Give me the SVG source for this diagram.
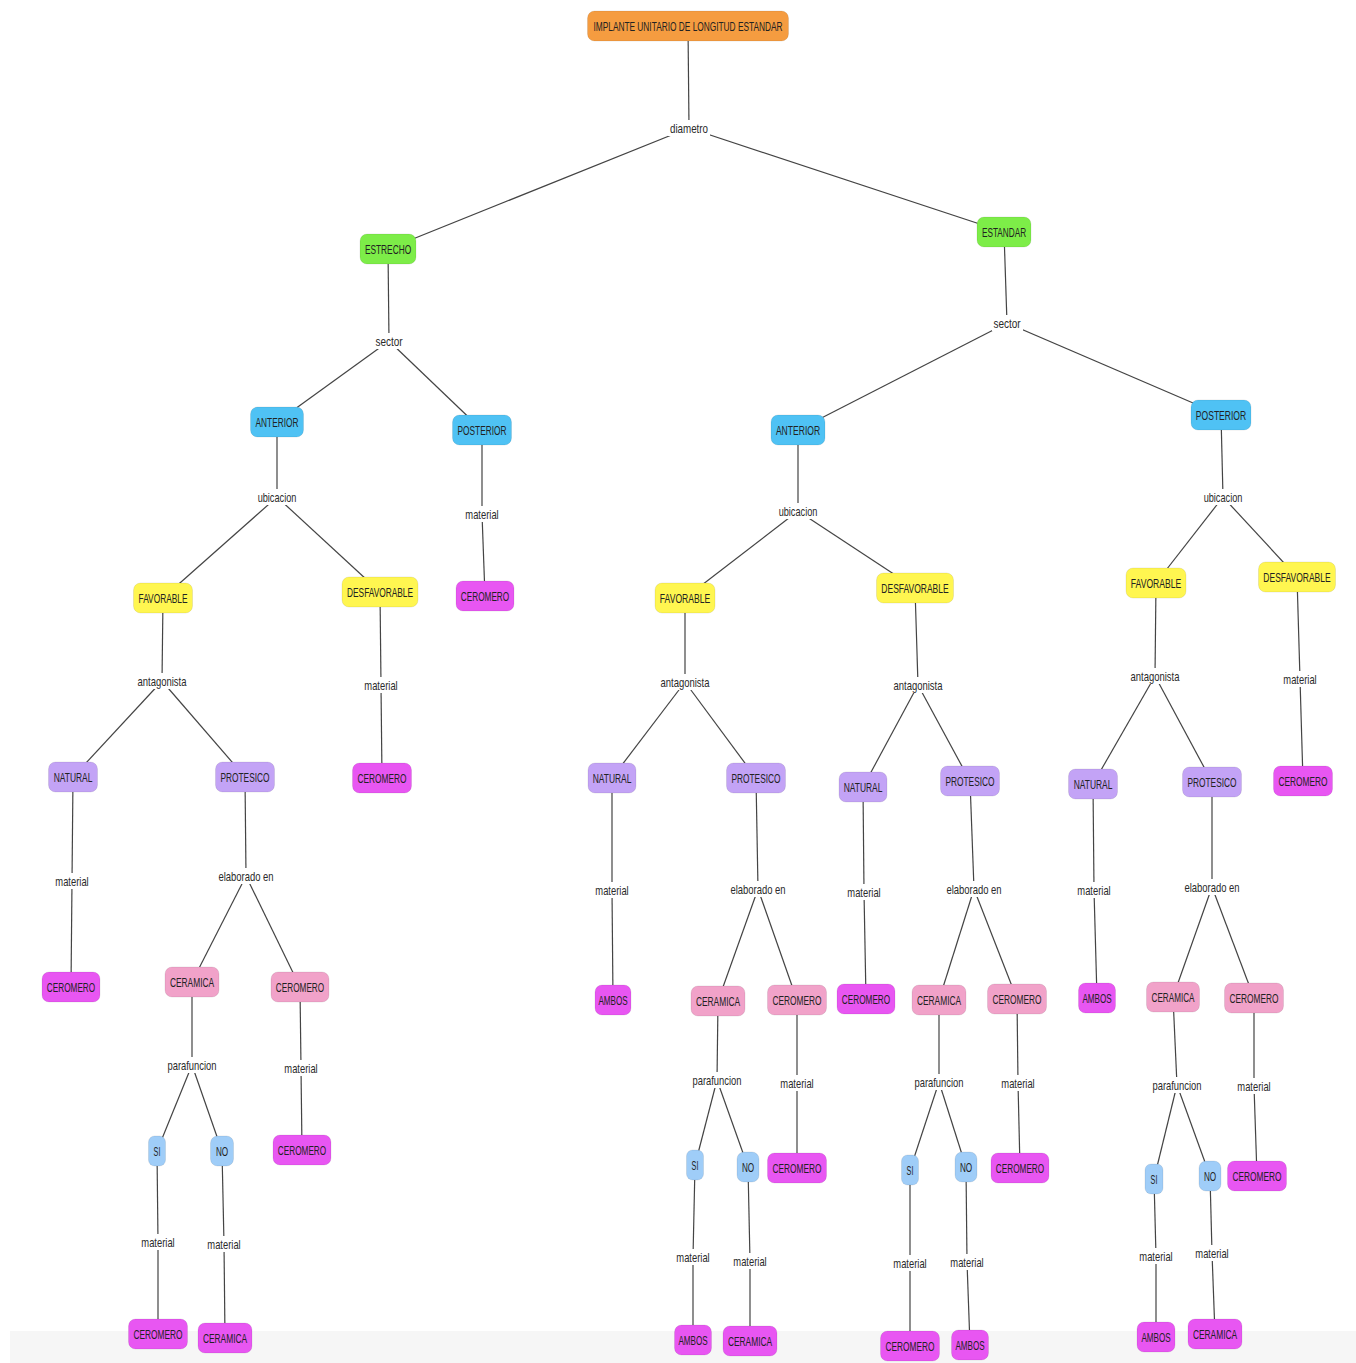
<svg xmlns="http://www.w3.org/2000/svg" width="1356" height="1363" viewBox="0 0 1356 1363">
<style>
.c{stroke:#444;stroke-width:1.2;fill:none}
.lb{fill:#fff}
.lt{font-family:"Liberation Sans",Arial,sans-serif;font-size:13.5px;fill:#2a2a2a;text-anchor:middle}
.nt{font-family:"Liberation Sans",Arial,sans-serif;font-size:13.5px;fill:#222;text-anchor:middle}
rect.n{stroke:rgba(0,0,0,0.08);stroke-width:1}
.or{fill:#f59c40}.gr{fill:#7ded48}.bl{fill:#4fc2f4}.ye{fill:#fff650}.la{fill:#c3a3f6}.pk{fill:#f1a2c9}.mg{fill:#e856f2}.lb2{fill:#9fcdf8}
</style>
<rect x="10" y="1331" width="1346" height="32" fill="#f6f6f6"/>
<g id="connectors">
<line class="c" x1="688" y1="26" x2="689" y2="128"/>
<line class="c" x1="689" y1="128" x2="388" y2="249"/>
<line class="c" x1="689" y1="128" x2="1004" y2="232"/>
<line class="c" x1="388" y1="249" x2="389" y2="341"/>
<line class="c" x1="389" y1="341" x2="277" y2="422"/>
<line class="c" x1="389" y1="341" x2="482" y2="430"/>
<line class="c" x1="1004" y1="232" x2="1007" y2="323"/>
<line class="c" x1="1007" y1="323" x2="798" y2="430"/>
<line class="c" x1="1007" y1="323" x2="1221" y2="415"/>
<line class="c" x1="277" y1="422" x2="277" y2="497"/>
<line class="c" x1="277" y1="497" x2="163" y2="598"/>
<line class="c" x1="277" y1="497" x2="380" y2="592"/>
<line class="c" x1="482" y1="430" x2="482" y2="514"/>
<line class="c" x1="482" y1="514" x2="485" y2="596"/>
<line class="c" x1="163" y1="598" x2="162" y2="681"/>
<line class="c" x1="162" y1="681" x2="73" y2="777"/>
<line class="c" x1="162" y1="681" x2="245" y2="777"/>
<line class="c" x1="380" y1="592" x2="381" y2="685"/>
<line class="c" x1="381" y1="685" x2="382" y2="778"/>
<line class="c" x1="73" y1="777" x2="72" y2="881"/>
<line class="c" x1="72" y1="881" x2="71" y2="987"/>
<line class="c" x1="245" y1="777" x2="246" y2="876"/>
<line class="c" x1="246" y1="876" x2="192" y2="982"/>
<line class="c" x1="246" y1="876" x2="300" y2="987"/>
<line class="c" x1="192" y1="982" x2="192" y2="1065"/>
<line class="c" x1="192" y1="1065" x2="157" y2="1151"/>
<line class="c" x1="192" y1="1065" x2="222" y2="1151"/>
<line class="c" x1="300" y1="987" x2="301" y2="1068"/>
<line class="c" x1="301" y1="1068" x2="302" y2="1150"/>
<line class="c" x1="157" y1="1151" x2="158" y2="1242"/>
<line class="c" x1="158" y1="1242" x2="158" y2="1334"/>
<line class="c" x1="222" y1="1151" x2="224" y2="1244"/>
<line class="c" x1="224" y1="1244" x2="225" y2="1338"/>
<line class="c" x1="798" y1="430" x2="798" y2="511"/>
<line class="c" x1="798" y1="511" x2="685" y2="598"/>
<line class="c" x1="798" y1="511" x2="915" y2="588"/>
<line class="c" x1="1221" y1="415" x2="1223" y2="497"/>
<line class="c" x1="1223" y1="497" x2="1156" y2="583"/>
<line class="c" x1="1223" y1="497" x2="1297" y2="577"/>
<line class="c" x1="685" y1="598" x2="685" y2="682"/>
<line class="c" x1="685" y1="682" x2="612" y2="778"/>
<line class="c" x1="685" y1="682" x2="756" y2="778"/>
<line class="c" x1="915" y1="588" x2="918" y2="685"/>
<line class="c" x1="918" y1="685" x2="863" y2="787"/>
<line class="c" x1="918" y1="685" x2="970" y2="781"/>
<line class="c" x1="612" y1="778" x2="612" y2="890"/>
<line class="c" x1="612" y1="890" x2="613" y2="1000"/>
<line class="c" x1="756" y1="778" x2="758" y2="889"/>
<line class="c" x1="758" y1="889" x2="718" y2="1001"/>
<line class="c" x1="758" y1="889" x2="797" y2="1000"/>
<line class="c" x1="863" y1="787" x2="864" y2="892"/>
<line class="c" x1="864" y1="892" x2="866" y2="999"/>
<line class="c" x1="970" y1="781" x2="974" y2="889"/>
<line class="c" x1="974" y1="889" x2="939" y2="1000"/>
<line class="c" x1="974" y1="889" x2="1017" y2="999"/>
<line class="c" x1="718" y1="1001" x2="717" y2="1080"/>
<line class="c" x1="717" y1="1080" x2="695" y2="1165"/>
<line class="c" x1="717" y1="1080" x2="748" y2="1167"/>
<line class="c" x1="797" y1="1000" x2="797" y2="1083"/>
<line class="c" x1="797" y1="1083" x2="797" y2="1168"/>
<line class="c" x1="939" y1="1000" x2="939" y2="1082"/>
<line class="c" x1="939" y1="1082" x2="910" y2="1170"/>
<line class="c" x1="939" y1="1082" x2="966" y2="1167"/>
<line class="c" x1="1017" y1="999" x2="1018" y2="1083"/>
<line class="c" x1="1018" y1="1083" x2="1020" y2="1168"/>
<line class="c" x1="695" y1="1165" x2="693" y2="1257"/>
<line class="c" x1="693" y1="1257" x2="693" y2="1340"/>
<line class="c" x1="748" y1="1167" x2="750" y2="1261"/>
<line class="c" x1="750" y1="1261" x2="750" y2="1341"/>
<line class="c" x1="910" y1="1170" x2="910" y2="1263"/>
<line class="c" x1="910" y1="1263" x2="910" y2="1346"/>
<line class="c" x1="966" y1="1167" x2="967" y2="1262"/>
<line class="c" x1="967" y1="1262" x2="970" y2="1345"/>
<line class="c" x1="1156" y1="583" x2="1155" y2="676"/>
<line class="c" x1="1155" y1="676" x2="1093" y2="784"/>
<line class="c" x1="1155" y1="676" x2="1212" y2="782"/>
<line class="c" x1="1297" y1="577" x2="1300" y2="679"/>
<line class="c" x1="1300" y1="679" x2="1303" y2="781"/>
<line class="c" x1="1093" y1="784" x2="1094" y2="890"/>
<line class="c" x1="1094" y1="890" x2="1097" y2="998"/>
<line class="c" x1="1212" y1="782" x2="1212" y2="887"/>
<line class="c" x1="1212" y1="887" x2="1173" y2="997"/>
<line class="c" x1="1212" y1="887" x2="1254" y2="998"/>
<line class="c" x1="1173" y1="997" x2="1177" y2="1085"/>
<line class="c" x1="1177" y1="1085" x2="1154" y2="1179"/>
<line class="c" x1="1177" y1="1085" x2="1210" y2="1176"/>
<line class="c" x1="1254" y1="998" x2="1254" y2="1086"/>
<line class="c" x1="1254" y1="1086" x2="1257" y2="1176"/>
<line class="c" x1="1154" y1="1179" x2="1156" y2="1256"/>
<line class="c" x1="1156" y1="1256" x2="1156" y2="1337"/>
<line class="c" x1="1210" y1="1176" x2="1212" y2="1253"/>
<line class="c" x1="1212" y1="1253" x2="1215" y2="1334"/>
<g id="labels">
<rect class="lb" x="668" y="120" width="42" height="16"/><text class="lt" transform="translate(689 133) scale(.68 1)" textLength="56" lengthAdjust="spacingAndGlyphs">diametro</text>
<rect class="lb" x="374" y="333" width="31" height="16"/><text class="lt" transform="translate(389 346) scale(.68 1)" textLength="40" lengthAdjust="spacingAndGlyphs">sector</text>
<rect class="lb" x="992" y="315" width="31" height="16"/><text class="lt" transform="translate(1007 328) scale(.68 1)" textLength="40" lengthAdjust="spacingAndGlyphs">sector</text>
<rect class="lb" x="256" y="489" width="43" height="16"/><text class="lt" transform="translate(277 502) scale(.68 1)" textLength="57" lengthAdjust="spacingAndGlyphs">ubicacion</text>
<rect class="lb" x="777" y="503" width="43" height="16"/><text class="lt" transform="translate(798 516) scale(.68 1)" textLength="57" lengthAdjust="spacingAndGlyphs">ubicacion</text>
<rect class="lb" x="1202" y="489" width="43" height="16"/><text class="lt" transform="translate(1223 502) scale(.68 1)" textLength="57" lengthAdjust="spacingAndGlyphs">ubicacion</text>
<rect class="lb" x="135" y="673" width="53" height="16"/><text class="lt" transform="translate(162 686) scale(.68 1)" textLength="72" lengthAdjust="spacingAndGlyphs">antagonista</text>
<rect class="lb" x="658" y="674" width="53" height="16"/><text class="lt" transform="translate(685 687) scale(.68 1)" textLength="72" lengthAdjust="spacingAndGlyphs">antagonista</text>
<rect class="lb" x="891" y="677" width="53" height="16"/><text class="lt" transform="translate(918 690) scale(.68 1)" textLength="72" lengthAdjust="spacingAndGlyphs">antagonista</text>
<rect class="lb" x="1128" y="668" width="53" height="16"/><text class="lt" transform="translate(1155 681) scale(.68 1)" textLength="72" lengthAdjust="spacingAndGlyphs">antagonista</text>
<rect class="lb" x="218" y="868" width="59" height="16"/><text class="lt" transform="translate(246 881) scale(.68 1)" textLength="81" lengthAdjust="spacingAndGlyphs">elaborado en</text>
<rect class="lb" x="730" y="881" width="59" height="16"/><text class="lt" transform="translate(758 894) scale(.68 1)" textLength="81" lengthAdjust="spacingAndGlyphs">elaborado en</text>
<rect class="lb" x="946" y="881" width="59" height="16"/><text class="lt" transform="translate(974 894) scale(.68 1)" textLength="81" lengthAdjust="spacingAndGlyphs">elaborado en</text>
<rect class="lb" x="1184" y="879" width="59" height="16"/><text class="lt" transform="translate(1212 892) scale(.68 1)" textLength="81" lengthAdjust="spacingAndGlyphs">elaborado en</text>
<rect class="lb" x="166" y="1057" width="53" height="16"/><text class="lt" transform="translate(192 1070) scale(.68 1)" textLength="72" lengthAdjust="spacingAndGlyphs">parafuncion</text>
<rect class="lb" x="691" y="1072" width="53" height="16"/><text class="lt" transform="translate(717 1085) scale(.68 1)" textLength="72" lengthAdjust="spacingAndGlyphs">parafuncion</text>
<rect class="lb" x="913" y="1074" width="53" height="16"/><text class="lt" transform="translate(939 1087) scale(.68 1)" textLength="72" lengthAdjust="spacingAndGlyphs">parafuncion</text>
<rect class="lb" x="1151" y="1077" width="53" height="16"/><text class="lt" transform="translate(1177 1090) scale(.68 1)" textLength="72" lengthAdjust="spacingAndGlyphs">parafuncion</text>
<rect class="lb" x="463" y="506" width="37" height="16"/><text class="lt" transform="translate(482 519) scale(.68 1)" textLength="49" lengthAdjust="spacingAndGlyphs">material</text>
<rect class="lb" x="362" y="677" width="37" height="16"/><text class="lt" transform="translate(381 690) scale(.68 1)" textLength="49" lengthAdjust="spacingAndGlyphs">material</text>
<rect class="lb" x="53" y="873" width="37" height="16"/><text class="lt" transform="translate(72 886) scale(.68 1)" textLength="49" lengthAdjust="spacingAndGlyphs">material</text>
<rect class="lb" x="282" y="1060" width="37" height="16"/><text class="lt" transform="translate(301 1073) scale(.68 1)" textLength="49" lengthAdjust="spacingAndGlyphs">material</text>
<rect class="lb" x="139" y="1234" width="37" height="16"/><text class="lt" transform="translate(158 1247) scale(.68 1)" textLength="49" lengthAdjust="spacingAndGlyphs">material</text>
<rect class="lb" x="205" y="1236" width="37" height="16"/><text class="lt" transform="translate(224 1249) scale(.68 1)" textLength="49" lengthAdjust="spacingAndGlyphs">material</text>
<rect class="lb" x="593" y="882" width="37" height="16"/><text class="lt" transform="translate(612 895) scale(.68 1)" textLength="49" lengthAdjust="spacingAndGlyphs">material</text>
<rect class="lb" x="845" y="884" width="37" height="16"/><text class="lt" transform="translate(864 897) scale(.68 1)" textLength="49" lengthAdjust="spacingAndGlyphs">material</text>
<rect class="lb" x="778" y="1075" width="37" height="16"/><text class="lt" transform="translate(797 1088) scale(.68 1)" textLength="49" lengthAdjust="spacingAndGlyphs">material</text>
<rect class="lb" x="999" y="1075" width="37" height="16"/><text class="lt" transform="translate(1018 1088) scale(.68 1)" textLength="49" lengthAdjust="spacingAndGlyphs">material</text>
<rect class="lb" x="674" y="1249" width="37" height="16"/><text class="lt" transform="translate(693 1262) scale(.68 1)" textLength="49" lengthAdjust="spacingAndGlyphs">material</text>
<rect class="lb" x="731" y="1253" width="37" height="16"/><text class="lt" transform="translate(750 1266) scale(.68 1)" textLength="49" lengthAdjust="spacingAndGlyphs">material</text>
<rect class="lb" x="891" y="1255" width="37" height="16"/><text class="lt" transform="translate(910 1268) scale(.68 1)" textLength="49" lengthAdjust="spacingAndGlyphs">material</text>
<rect class="lb" x="948" y="1254" width="37" height="16"/><text class="lt" transform="translate(967 1267) scale(.68 1)" textLength="49" lengthAdjust="spacingAndGlyphs">material</text>
<rect class="lb" x="1281" y="671" width="37" height="16"/><text class="lt" transform="translate(1300 684) scale(.68 1)" textLength="49" lengthAdjust="spacingAndGlyphs">material</text>
<rect class="lb" x="1075" y="882" width="37" height="16"/><text class="lt" transform="translate(1094 895) scale(.68 1)" textLength="49" lengthAdjust="spacingAndGlyphs">material</text>
<rect class="lb" x="1235" y="1078" width="37" height="16"/><text class="lt" transform="translate(1254 1091) scale(.68 1)" textLength="49" lengthAdjust="spacingAndGlyphs">material</text>
<rect class="lb" x="1137" y="1248" width="37" height="16"/><text class="lt" transform="translate(1156 1261) scale(.68 1)" textLength="49" lengthAdjust="spacingAndGlyphs">material</text>
<rect class="lb" x="1193" y="1245" width="37" height="16"/><text class="lt" transform="translate(1212 1258) scale(.68 1)" textLength="49" lengthAdjust="spacingAndGlyphs">material</text>
</g>
</g>
<g id="n0"><rect class="n or" x="587.5" y="11" width="201" height="30" rx="7"/><text class="nt" transform="translate(688 31) scale(.68 1)" textLength="278" lengthAdjust="spacingAndGlyphs">IMPLANTE UNITARIO DE LONGITUD ESTANDAR</text></g>
<g id="n1"><rect class="n gr" x="360" y="234" width="56" height="30" rx="7"/><text class="nt" transform="translate(388 254) scale(.68 1)" textLength="68" lengthAdjust="spacingAndGlyphs">ESTRECHO</text></g>
<g id="n2"><rect class="n gr" x="977" y="217" width="54" height="30" rx="7"/><text class="nt" transform="translate(1004 237) scale(.68 1)" textLength="65" lengthAdjust="spacingAndGlyphs">ESTANDAR</text></g>
<g id="n3"><rect class="n bl" x="250.5" y="407" width="53" height="30" rx="7"/><text class="nt" transform="translate(277 427) scale(.68 1)" textLength="63" lengthAdjust="spacingAndGlyphs">ANTERIOR</text></g>
<g id="n4"><rect class="n bl" x="452.5" y="415" width="59" height="30" rx="7"/><text class="nt" transform="translate(482 435) scale(.68 1)" textLength="72" lengthAdjust="spacingAndGlyphs">POSTERIOR</text></g>
<g id="n5"><rect class="n mg" x="456" y="581" width="58" height="30" rx="7"/><text class="nt" transform="translate(485 601) scale(.68 1)" textLength="71" lengthAdjust="spacingAndGlyphs">CEROMERO</text></g>
<g id="n6"><rect class="n ye" x="133.5" y="583" width="59" height="30" rx="7"/><text class="nt" transform="translate(163 603) scale(.68 1)" textLength="72" lengthAdjust="spacingAndGlyphs">FAVORABLE</text></g>
<g id="n7"><rect class="n ye" x="342" y="577" width="76" height="30" rx="7"/><text class="nt" transform="translate(380 597) scale(.68 1)" textLength="97" lengthAdjust="spacingAndGlyphs">DESFAVORABLE</text></g>
<g id="n8"><rect class="n mg" x="352.5" y="763" width="59" height="30" rx="7"/><text class="nt" transform="translate(382 783) scale(.68 1)" textLength="72" lengthAdjust="spacingAndGlyphs">CEROMERO</text></g>
<g id="n9"><rect class="n la" x="48.5" y="762" width="49" height="30" rx="7"/><text class="nt" transform="translate(73 782) scale(.68 1)" textLength="57" lengthAdjust="spacingAndGlyphs">NATURAL</text></g>
<g id="n10"><rect class="n la" x="215.5" y="762" width="59" height="30" rx="7"/><text class="nt" transform="translate(245 782) scale(.68 1)" textLength="72" lengthAdjust="spacingAndGlyphs">PROTESICO</text></g>
<g id="n11"><rect class="n mg" x="42" y="972" width="58" height="30" rx="7"/><text class="nt" transform="translate(71 992) scale(.68 1)" textLength="71" lengthAdjust="spacingAndGlyphs">CEROMERO</text></g>
<g id="n12"><rect class="n pk" x="165" y="967" width="54" height="30" rx="7"/><text class="nt" transform="translate(192 987) scale(.68 1)" textLength="65" lengthAdjust="spacingAndGlyphs">CERAMICA</text></g>
<g id="n13"><rect class="n pk" x="271" y="972" width="58" height="30" rx="7"/><text class="nt" transform="translate(300 992) scale(.68 1)" textLength="71" lengthAdjust="spacingAndGlyphs">CEROMERO</text></g>
<g id="n14"><rect class="n lb2" x="148.5" y="1136" width="17" height="30" rx="6"/><text class="nt" transform="translate(157 1156) scale(.68 1)" textLength="10" lengthAdjust="spacingAndGlyphs">SI</text></g>
<g id="n15"><rect class="n lb2" x="210.5" y="1136" width="23" height="30" rx="7"/><text class="nt" transform="translate(222 1156) scale(.68 1)" textLength="18" lengthAdjust="spacingAndGlyphs">NO</text></g>
<g id="n16"><rect class="n mg" x="273" y="1135" width="58" height="30" rx="7"/><text class="nt" transform="translate(302 1155) scale(.68 1)" textLength="71" lengthAdjust="spacingAndGlyphs">CEROMERO</text></g>
<g id="n17"><rect class="n mg" x="128.5" y="1319" width="59" height="30" rx="7"/><text class="nt" transform="translate(158 1339) scale(.68 1)" textLength="72" lengthAdjust="spacingAndGlyphs">CEROMERO</text></g>
<g id="n18"><rect class="n mg" x="198" y="1323" width="54" height="30" rx="7"/><text class="nt" transform="translate(225 1343) scale(.68 1)" textLength="65" lengthAdjust="spacingAndGlyphs">CERAMICA</text></g>
<g id="n19"><rect class="n bl" x="771" y="415" width="54" height="30" rx="7"/><text class="nt" transform="translate(798 435) scale(.68 1)" textLength="65" lengthAdjust="spacingAndGlyphs">ANTERIOR</text></g>
<g id="n20"><rect class="n bl" x="1191" y="400" width="60" height="30" rx="7"/><text class="nt" transform="translate(1221 420) scale(.68 1)" textLength="74" lengthAdjust="spacingAndGlyphs">POSTERIOR</text></g>
<g id="n21"><rect class="n ye" x="655" y="583" width="60" height="30" rx="7"/><text class="nt" transform="translate(685 603) scale(.68 1)" textLength="74" lengthAdjust="spacingAndGlyphs">FAVORABLE</text></g>
<g id="n22"><rect class="n ye" x="876.5" y="573" width="77" height="30" rx="7"/><text class="nt" transform="translate(915 593) scale(.68 1)" textLength="99" lengthAdjust="spacingAndGlyphs">DESFAVORABLE</text></g>
<g id="n23"><rect class="n la" x="588" y="763" width="48" height="30" rx="7"/><text class="nt" transform="translate(612 783) scale(.68 1)" textLength="57" lengthAdjust="spacingAndGlyphs">NATURAL</text></g>
<g id="n24"><rect class="n la" x="726.5" y="763" width="59" height="30" rx="7"/><text class="nt" transform="translate(756 783) scale(.68 1)" textLength="72" lengthAdjust="spacingAndGlyphs">PROTESICO</text></g>
<g id="n25"><rect class="n la" x="839" y="772" width="48" height="30" rx="7"/><text class="nt" transform="translate(863 792) scale(.68 1)" textLength="57" lengthAdjust="spacingAndGlyphs">NATURAL</text></g>
<g id="n26"><rect class="n la" x="940.5" y="766" width="59" height="30" rx="7"/><text class="nt" transform="translate(970 786) scale(.68 1)" textLength="72" lengthAdjust="spacingAndGlyphs">PROTESICO</text></g>
<g id="n27"><rect class="n mg" x="595" y="985" width="36" height="30" rx="7"/><text class="nt" transform="translate(613 1005) scale(.68 1)" textLength="43" lengthAdjust="spacingAndGlyphs">AMBOS</text></g>
<g id="n28"><rect class="n pk" x="691" y="986" width="54" height="30" rx="7"/><text class="nt" transform="translate(718 1006) scale(.68 1)" textLength="65" lengthAdjust="spacingAndGlyphs">CERAMICA</text></g>
<g id="n29"><rect class="n pk" x="767.5" y="985" width="59" height="30" rx="7"/><text class="nt" transform="translate(797 1005) scale(.68 1)" textLength="72" lengthAdjust="spacingAndGlyphs">CEROMERO</text></g>
<g id="n30"><rect class="n mg" x="837" y="984" width="58" height="30" rx="7"/><text class="nt" transform="translate(866 1004) scale(.68 1)" textLength="71" lengthAdjust="spacingAndGlyphs">CEROMERO</text></g>
<g id="n31"><rect class="n pk" x="912" y="985" width="54" height="30" rx="7"/><text class="nt" transform="translate(939 1005) scale(.68 1)" textLength="65" lengthAdjust="spacingAndGlyphs">CERAMICA</text></g>
<g id="n32"><rect class="n pk" x="987.5" y="984" width="59" height="30" rx="7"/><text class="nt" transform="translate(1017 1004) scale(.68 1)" textLength="72" lengthAdjust="spacingAndGlyphs">CEROMERO</text></g>
<g id="n33"><rect class="n lb2" x="686.5" y="1150" width="17" height="30" rx="6"/><text class="nt" transform="translate(695 1170) scale(.68 1)" textLength="10" lengthAdjust="spacingAndGlyphs">SI</text></g>
<g id="n34"><rect class="n lb2" x="737" y="1152" width="22" height="30" rx="7"/><text class="nt" transform="translate(748 1172) scale(.68 1)" textLength="18" lengthAdjust="spacingAndGlyphs">NO</text></g>
<g id="n35"><rect class="n mg" x="767.5" y="1153" width="59" height="30" rx="7"/><text class="nt" transform="translate(797 1173) scale(.68 1)" textLength="72" lengthAdjust="spacingAndGlyphs">CEROMERO</text></g>
<g id="n36"><rect class="n lb2" x="901.5" y="1155" width="17" height="30" rx="6"/><text class="nt" transform="translate(910 1175) scale(.68 1)" textLength="10" lengthAdjust="spacingAndGlyphs">SI</text></g>
<g id="n37"><rect class="n lb2" x="955" y="1152" width="22" height="30" rx="7"/><text class="nt" transform="translate(966 1172) scale(.68 1)" textLength="18" lengthAdjust="spacingAndGlyphs">NO</text></g>
<g id="n38"><rect class="n mg" x="991" y="1153" width="58" height="30" rx="7"/><text class="nt" transform="translate(1020 1173) scale(.68 1)" textLength="71" lengthAdjust="spacingAndGlyphs">CEROMERO</text></g>
<g id="n39"><rect class="n mg" x="674.5" y="1325" width="37" height="30" rx="7"/><text class="nt" transform="translate(693 1345) scale(.68 1)" textLength="43" lengthAdjust="spacingAndGlyphs">AMBOS</text></g>
<g id="n40"><rect class="n mg" x="723" y="1326" width="54" height="30" rx="7"/><text class="nt" transform="translate(750 1346) scale(.68 1)" textLength="65" lengthAdjust="spacingAndGlyphs">CERAMICA</text></g>
<g id="n41"><rect class="n mg" x="880.5" y="1331" width="59" height="30" rx="7"/><text class="nt" transform="translate(910 1351) scale(.68 1)" textLength="72" lengthAdjust="spacingAndGlyphs">CEROMERO</text></g>
<g id="n42"><rect class="n mg" x="951.5" y="1330" width="37" height="30" rx="7"/><text class="nt" transform="translate(970 1350) scale(.68 1)" textLength="43" lengthAdjust="spacingAndGlyphs">AMBOS</text></g>
<g id="n43"><rect class="n ye" x="1126" y="568" width="60" height="30" rx="7"/><text class="nt" transform="translate(1156 588) scale(.68 1)" textLength="74" lengthAdjust="spacingAndGlyphs">FAVORABLE</text></g>
<g id="n44"><rect class="n ye" x="1258.5" y="562" width="77" height="30" rx="7"/><text class="nt" transform="translate(1297 582) scale(.68 1)" textLength="99" lengthAdjust="spacingAndGlyphs">DESFAVORABLE</text></g>
<g id="n45"><rect class="n la" x="1068.5" y="769" width="49" height="30" rx="7"/><text class="nt" transform="translate(1093 789) scale(.68 1)" textLength="57" lengthAdjust="spacingAndGlyphs">NATURAL</text></g>
<g id="n46"><rect class="n la" x="1182.5" y="767" width="59" height="30" rx="7"/><text class="nt" transform="translate(1212 787) scale(.68 1)" textLength="72" lengthAdjust="spacingAndGlyphs">PROTESICO</text></g>
<g id="n47"><rect class="n mg" x="1273.5" y="766" width="59" height="30" rx="7"/><text class="nt" transform="translate(1303 786) scale(.68 1)" textLength="72" lengthAdjust="spacingAndGlyphs">CEROMERO</text></g>
<g id="n48"><rect class="n mg" x="1078.5" y="983" width="37" height="30" rx="7"/><text class="nt" transform="translate(1097 1003) scale(.68 1)" textLength="43" lengthAdjust="spacingAndGlyphs">AMBOS</text></g>
<g id="n49"><rect class="n pk" x="1146.5" y="982" width="53" height="30" rx="7"/><text class="nt" transform="translate(1173 1002) scale(.68 1)" textLength="63" lengthAdjust="spacingAndGlyphs">CERAMICA</text></g>
<g id="n50"><rect class="n pk" x="1224.5" y="983" width="59" height="30" rx="7"/><text class="nt" transform="translate(1254 1003) scale(.68 1)" textLength="72" lengthAdjust="spacingAndGlyphs">CEROMERO</text></g>
<g id="n51"><rect class="n lb2" x="1145" y="1164" width="18" height="30" rx="6"/><text class="nt" transform="translate(1154 1184) scale(.68 1)" textLength="10" lengthAdjust="spacingAndGlyphs">SI</text></g>
<g id="n52"><rect class="n lb2" x="1199" y="1161" width="22" height="30" rx="7"/><text class="nt" transform="translate(1210 1181) scale(.68 1)" textLength="18" lengthAdjust="spacingAndGlyphs">NO</text></g>
<g id="n53"><rect class="n mg" x="1227.5" y="1161" width="59" height="30" rx="7"/><text class="nt" transform="translate(1257 1181) scale(.68 1)" textLength="72" lengthAdjust="spacingAndGlyphs">CEROMERO</text></g>
<g id="n54"><rect class="n mg" x="1137" y="1322" width="38" height="30" rx="7"/><text class="nt" transform="translate(1156 1342) scale(.68 1)" textLength="43" lengthAdjust="spacingAndGlyphs">AMBOS</text></g>
<g id="n55"><rect class="n mg" x="1188" y="1319" width="54" height="30" rx="7"/><text class="nt" transform="translate(1215 1339) scale(.68 1)" textLength="65" lengthAdjust="spacingAndGlyphs">CERAMICA</text></g>
</svg>
